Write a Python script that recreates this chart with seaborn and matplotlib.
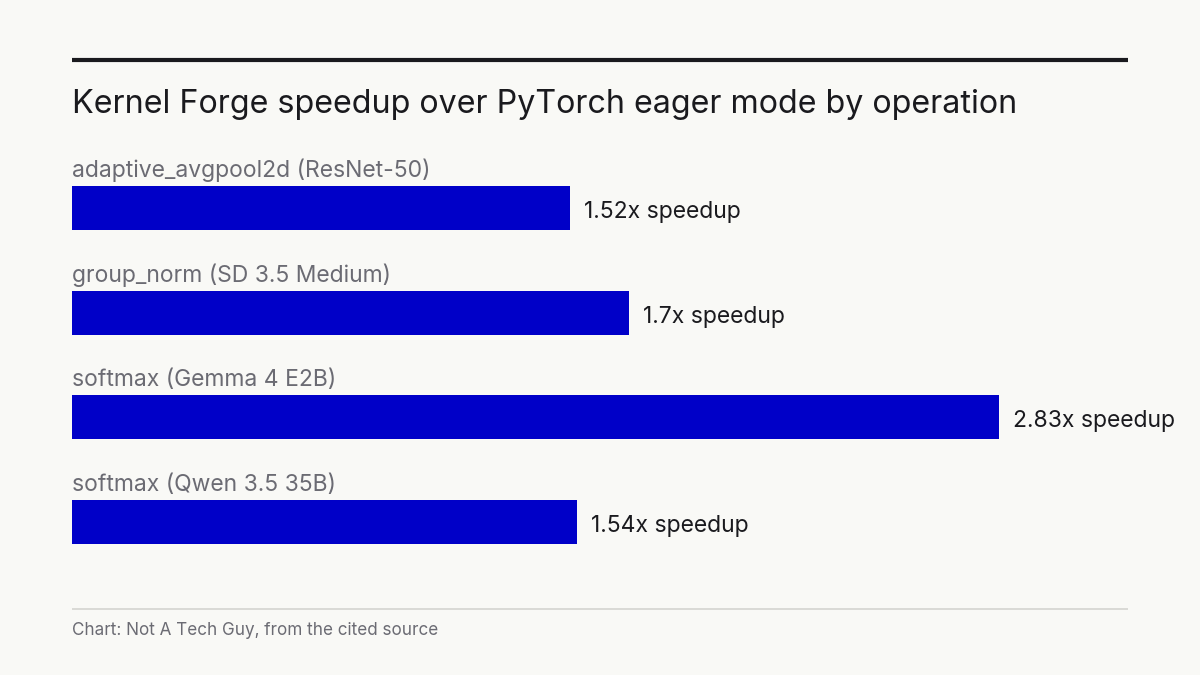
import matplotlib
matplotlib.use("Agg")
import matplotlib.pyplot as plt
import seaborn as sns
import pandas as pd
from matplotlib.lines import Line2D

categories = ["adaptive_avgpool2d (ResNet-50)", "group_norm (SD 3.5 Medium)",
              "softmax (Gemma 4 E2B)", "softmax (Qwen 3.5 35B)"]
speedups = [1.52, 1.7, 2.83, 1.54]
value_labels = ["1.52x speedup", "1.7x speedup", "2.83x speedup", "1.54x speedup"]
title = "Kernel Forge speedup over PyTorch eager mode by operation"
footer = "Chart: Not A Tech Guy, from the cited source"

BG = "#f9f9f6"
BAR = "#0000c8"
DARK = "#1a1a1e"
GRAY = "#6b6b73"

sns.set_theme(style="white")
plt.rcParams['font.family'] = ['Inter', 'DejaVu Sans']

W, H = 1200, 675
fig = plt.figure(figsize=(12, 6.75), dpi=100, facecolor=BG)

step = 104.67
top_px = 208 - step / 2
bot_px = 522 + step / 2
ax = fig.add_axes([72 / W, 1 - bot_px / H, 1056 / W, (bot_px - top_px) / H])
ax.set_facecolor(BG)

df = pd.DataFrame({"cat": categories, "val": speedups})
sns.barplot(data=df, x="val", y="cat", orient="h", color=BAR, width=0.42,
            saturation=1, linewidth=0, ax=ax)
ax.set_xlim(0, 1056 / 327.6)
ax.set_ylim(3.5, -0.5)
ax.set_xlabel("")
ax.set_ylabel("")
ax.set_xticks([])
ax.set_yticks([])
for s in ax.spines.values():
    s.set_visible(False)

for i, (c, v, lab) in enumerate(zip(categories, speedups, value_labels)):
    ax.text(0, i - (208 - 177) / step, c, ha="left", va="baseline",
            fontsize=16.5, color=GRAY)
    ax.text(v + 14 / 327.6, i + 4 / step, lab, ha="left", va="center",
            fontsize=16.5, color=DARK)

fig.add_artist(Line2D([72 / W, 1128 / W], [1 - 60 / H, 1 - 60 / H],
                      transform=fig.transFigure, color=DARK, linewidth=3,
                      solid_capstyle="butt"))
fig.text(72 / W, 1 - 113 / H, title, ha="left", va="baseline",
         fontsize=23.2, color=DARK)
fig.add_artist(Line2D([72 / W, 1128 / W], [1 - 609 / H, 1 - 609 / H],
                      transform=fig.transFigure, color="#d4d4d0", linewidth=1.2,
                      solid_capstyle="butt"))
fig.text(72 / W, 1 - 635 / H, footer, ha="left", va="baseline",
         fontsize=12.3, color=GRAY)

fig.savefig("out.png", dpi=100, facecolor=BG)
